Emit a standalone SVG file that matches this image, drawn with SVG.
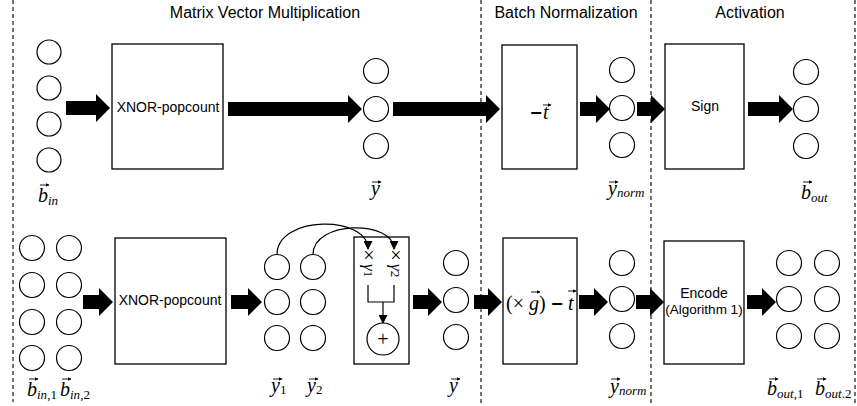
<svg xmlns="http://www.w3.org/2000/svg" width="857" height="406" viewBox="0 0 857 406">
<style>
.bg{fill:#fff}
.div{stroke:#444;stroke-width:1.5;stroke-dasharray:4 3;fill:none}
.c{fill:#fff;stroke:#000;stroke-width:1.2}
.box{fill:#fff;stroke:#000;stroke-width:1.3}
.arr{fill:#000}
.hd{font-family:"Liberation Sans",Arial,sans-serif;font-size:16px;fill:#000;text-anchor:middle}
.t{font-family:"Liberation Sans",Arial,sans-serif;font-size:14px;fill:#000;text-anchor:middle}
.m{font-family:"Liberation Serif","Times New Roman",serif;font-style:italic;font-size:20px;fill:#000}
.sub{font-size:13px}
.subn{font-size:13px;font-style:normal}
.mr{font-family:"Liberation Serif","Times New Roman",serif;font-size:20px;fill:#000}
.ln{stroke:#000;stroke-width:1.2;fill:none}
.vec{stroke:#000;stroke-width:0.9;fill:none}
</style>
<defs>
<marker id="ah" markerWidth="9" markerHeight="9" refX="8" refY="4.5" orient="auto" markerUnits="userSpaceOnUse">
<path d="M0,0 L9,4.5 L0,9 Z" fill="#000"/>
</marker>
<marker id="vh" markerWidth="4" markerHeight="4" refX="3.5" refY="2" orient="auto" markerUnits="userSpaceOnUse">
<path d="M0,0 L4,2 L0,4 Z" fill="#000"/>
</marker>
</defs>
<rect class="bg" x="0" y="0" width="857" height="406"/>
<g id="dividers">
<line class="div" x1="13" y1="0" x2="13" y2="402"/>
<line class="div" x1="481" y1="0" x2="481" y2="406"/>
<line class="div" x1="651" y1="0" x2="651" y2="406"/>
<line class="div" x1="855" y1="0" x2="855" y2="406"/>
</g>
<g id="headers">
<text class="hd" x="265" y="18">Matrix Vector Multiplication</text>
<text class="hd" x="566" y="18">Batch Normalization</text>
<text class="hd" x="750" y="18">Activation</text>
</g>

<g id="b-in-top">
<circle class="c" cx="49" cy="52" r="12"/>
<circle class="c" cx="49" cy="88" r="12"/>
<circle class="c" cx="49" cy="124" r="12"/>
<circle class="c" cx="49" cy="160" r="12"/>
<path class="vec" d="M40,185 h9" marker-end="url(#vh)"/>
<text class="m" x="38" y="202">b<tspan class="sub" dy="3">in</tspan></text>
</g>
<g id="xnor-top">
<rect class="box" x="112" y="44" width="111" height="125"/>
<text class="t" x="168" y="112">XNOR-popcount</text>
</g>
<g id="y-top">
<circle class="c" cx="376" cy="71" r="12.5"/>
<circle class="c" cx="376" cy="109" r="12.5"/>
<circle class="c" cx="376" cy="146" r="12.5"/>
<path class="vec" d="M372,182 h9" marker-end="url(#vh)"/>
<text class="m" x="371" y="195">y</text>
</g>
<g id="bn-top">
<rect class="box" x="502" y="45" width="75" height="124"/>
<text x="536" y="118" style="font-family:'DejaVu Sans',sans-serif;font-weight:bold;font-size:16px;text-anchor:middle">−</text>
<path class="vec" d="M543,105 h8" marker-end="url(#vh)"/>
<text class="m" x="543" y="119">t</text>
</g>
<g id="ynorm-top">
<circle class="c" cx="622" cy="70" r="12.5"/>
<circle class="c" cx="622" cy="108" r="12.5"/>
<circle class="c" cx="622" cy="145" r="12.5"/>
<path class="vec" d="M609,182 h9" marker-end="url(#vh)"/>
<text class="m" x="608" y="195">y<tspan class="sub" dy="2">norm</tspan></text>
</g>
<g id="sign">
<rect class="box" x="665" y="44" width="79" height="125"/>
<text class="t" x="705" y="111">Sign</text>
</g>
<g id="b-out-top">
<circle class="c" cx="806" cy="72" r="12.5"/>
<circle class="c" cx="806" cy="109" r="12.5"/>
<circle class="c" cx="806" cy="146" r="12.5"/>
<path class="vec" d="M803,182 h9" marker-end="url(#vh)"/>
<text class="m" x="801" y="199">b<tspan class="sub" dy="3">out</tspan></text>
</g>

<g id="b-in-bottom">
<circle class="c" cx="32" cy="248" r="12.5"/>
<circle class="c" cx="32" cy="285" r="12.5"/>
<circle class="c" cx="32" cy="322" r="12.5"/>
<circle class="c" cx="32" cy="358" r="12.5"/>
<circle class="c" cx="69" cy="248" r="12.5"/>
<circle class="c" cx="69" cy="285" r="12.5"/>
<circle class="c" cx="69" cy="322" r="12.5"/>
<circle class="c" cx="69" cy="358" r="12.5"/>
<path class="vec" d="M29,379 h9" marker-end="url(#vh)"/>
<text class="m" x="27" y="396">b<tspan class="sub" dy="3">in</tspan><tspan class="subn">,1</tspan></text>
<path class="vec" d="M62,379 h9" marker-end="url(#vh)"/>
<text class="m" x="60" y="396">b<tspan class="sub" dy="3">in</tspan><tspan class="subn">,2</tspan></text>
</g>
<g id="xnor-bottom">
<rect class="box" x="115" y="238" width="111" height="126"/>
<text class="t" x="170" y="305">XNOR-popcount</text>
</g>
<g id="y12">
<circle class="c" cx="277" cy="267" r="12.5"/>
<circle class="c" cx="277" cy="302" r="12.5"/>
<circle class="c" cx="277" cy="338" r="12.5"/>
<circle class="c" cx="313" cy="267" r="12.5"/>
<circle class="c" cx="313" cy="302" r="12.5"/>
<circle class="c" cx="313" cy="338" r="12.5"/>
<path class="vec" d="M273,379 h9" marker-end="url(#vh)"/>
<text class="m" x="271" y="392">y<tspan class="subn" dy="2">1</tspan></text>
<path class="vec" d="M309,379 h9" marker-end="url(#vh)"/>
<text class="m" x="307" y="392">y<tspan class="subn" dy="2">2</tspan></text>
</g>
<g id="gamma-sum">
<rect class="box" x="354" y="237" width="55" height="127"/>
<text class="mr" x="369" y="262" style="font-size:20px;text-anchor:middle">×</text>
<text class="mr" x="396" y="262" style="font-size:20px;text-anchor:middle">×</text>
<text class="m" transform="translate(364,264) rotate(90)" style="font-size:17px">γ<tspan class="subn">1</tspan></text>
<text class="m" transform="translate(391,264) rotate(90)" style="font-size:17px">γ<tspan class="subn">2</tspan></text>
<polyline class="ln" points="368,285 368,302 394,302 394,285"/>
<circle class="c" cx="383" cy="339" r="16"/>
<text class="mr" x="383" y="346" style="font-size:20px;text-anchor:middle">+</text>
</g>
<g id="y-bottom">
<circle class="c" cx="456" cy="263" r="12.5"/>
<circle class="c" cx="456" cy="300" r="12.5"/>
<circle class="c" cx="456" cy="337" r="12.5"/>
<path class="vec" d="M451,379 h9" marker-end="url(#vh)"/>
<text class="m" x="449" y="392">y</text>
</g>
<g id="bn-bottom">
<rect class="box" x="503" y="238" width="74" height="126"/>
<text class="mr" x="506" y="310">(× <tspan class="m">g</tspan>)</text>
<text x="557" y="309" style="font-family:'DejaVu Sans',sans-serif;font-weight:bold;font-size:16px;text-anchor:middle">−</text>
<path class="vec" d="M531,292 h9" marker-end="url(#vh)"/>
<path class="vec" d="M568,291 h8" marker-end="url(#vh)"/>
<text class="m" x="568" y="310">t</text>
</g>
<g id="ynorm-bottom">
<circle class="c" cx="622" cy="263" r="12.5"/>
<circle class="c" cx="622" cy="299" r="12.5"/>
<circle class="c" cx="622" cy="336" r="12.5"/>
<path class="vec" d="M611,379 h9" marker-end="url(#vh)"/>
<text class="m" x="610" y="393">y<tspan class="sub" dy="2">norm</tspan></text>
</g>
<g id="encode">
<rect class="box" x="664" y="241" width="80" height="123"/>
<text class="t" x="704" y="298">Encode</text>
<text class="t" x="704" y="314" style="font-size:13.5px">(Algorithm 1)</text>
</g>
<g id="b-out-bottom">
<circle class="c" cx="789" cy="263" r="12.5"/>
<circle class="c" cx="789" cy="299" r="12.5"/>
<circle class="c" cx="789" cy="336" r="12.5"/>
<circle class="c" cx="827" cy="263" r="12.5"/>
<circle class="c" cx="827" cy="299" r="12.5"/>
<circle class="c" cx="827" cy="336" r="12.5"/>
<path class="vec" d="M769,379 h9" marker-end="url(#vh)"/>
<text class="m" x="767" y="395">b<tspan class="sub" dy="3">out</tspan><tspan class="subn">,1</tspan></text>
<path class="vec" d="M817,379 h9" marker-end="url(#vh)"/>
<text class="m" x="815" y="395">b<tspan class="sub" dy="3">out</tspan><tspan class="subn">.2</tspan></text>
</g>

<g id="connectors">
<polygon class="arr" points="66,101 96,101 96,94 110,108 96,122 96,115 66,115"/>
<polygon class="arr" points="228,102 348,102 348,95 362,109 348,123 348,116 228,116"/>
<polygon class="arr" points="393,102 486,102 486,95 500,109 486,123 486,116 393,116"/>
<polygon class="arr" points="580,102 596,102 596,95 610,109 596,123 596,116 580,116"/>
<polygon class="arr" points="637,102 651,102 651,95 665,109 651,123 651,116 637,116"/>
<polygon class="arr" points="748,102 779,102 779,95 793,109 779,123 779,116 748,116"/>

<polygon class="arr" points="83,295 99,295 99,288 113,302 99,316 99,309 83,309"/>
<polygon class="arr" points="231,295 248,295 248,288 262,302 248,316 248,309 231,309"/>
<polygon class="arr" points="413,295 428,295 428,288 442,302 428,316 428,309 413,309"/>
<polygon class="arr" points="474,295 488,295 488,288 502,302 488,316 488,309 474,309"/>
<polygon class="arr" points="579,295 594,295 594,288 608,302 594,316 594,309 579,309"/>
<polygon class="arr" points="636,295 650,295 650,288 664,302 650,316 650,309 636,309"/>
<polygon class="arr" points="747,295 762,295 762,288 776,302 762,316 762,309 747,309"/>

<path class="ln" d="M277,254.5 C277,215 368,215 368,249" marker-end="url(#ah)"/>
<path class="ln" d="M313,254.5 C313,220 394,220 394,249" marker-end="url(#ah)"/>
<line class="ln" x1="383" y1="302" x2="383" y2="323" marker-end="url(#ah)"/>
</g>
</svg>
